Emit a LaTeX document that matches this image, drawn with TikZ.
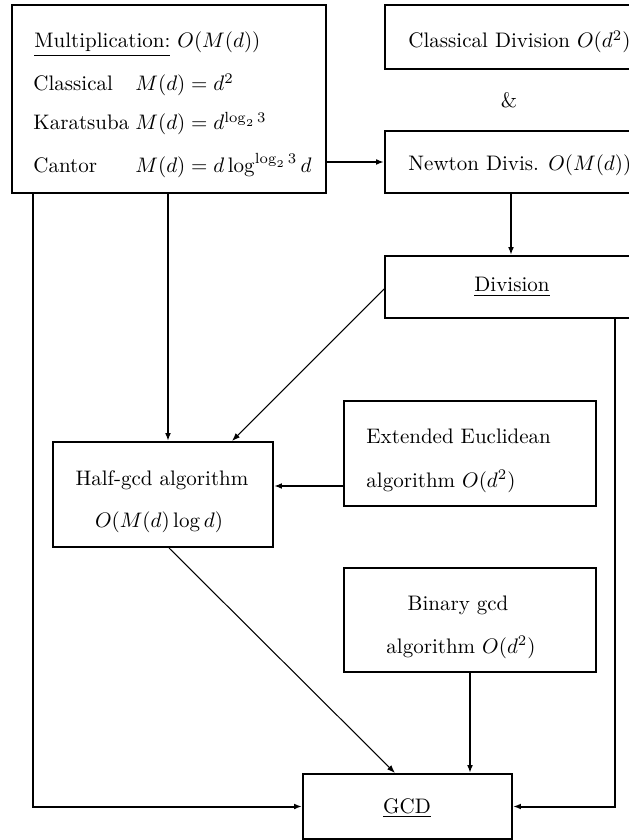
\documentclass[tikz,border=0pt]{standalone}
\usetikzlibrary{fit,calc,arrows.meta}
\begin{document}
\begin{tikzpicture}[x=0.476pt,y=-0.476pt,
  box/.style={draw,line width=0.95pt,inner sep=0pt},
  txt/.style={inner sep=0pt},
  arr/.style={line width=0.95pt,-{Latex[length=3.8pt,width=2.8pt]}},
  thinarr/.style={line width=0.5pt,-{Latex[length=3.8pt,width=2.8pt]}}]
\useasboundingbox (0,0) rectangle (629,840);
\clip (0,0) rectangle (629,840);
% boxes
\node[box,fit={(12,5)(326,193)}] (mult) {};
\node[box,fit={(385,5)(637,69)}] (cdiv) {};
\node[box,fit={(385,131)(637,193)}] (newton) {};
\node[box,fit={(385,256)(637,318)}] (division) {};
\node[box,fit={(53,442)(273,547)}] (halfgcd) {};
\node[box,fit={(344,401)(596,506)}] (ee) {};
\node[box,fit={(344,568)(596,672)}] (binary) {};
\node[box,fit={(303,774)(512,839)}] (gcd) {};
% texts
\node[txt,anchor=base west] (t1) at (34,48) {\underline{Multiplication:} $O(M(d))$};
\node[txt,anchor=base west] (t2) at (33,91) {Classical};
\node[txt,anchor=base west] (t2b) at (135,91) {$M(d)=d^2$};
\node[txt,anchor=base west] (t3) at (33,130) {Karatsuba};
\node[txt,anchor=base west] (t3b) at (135,130) {$M(d)=d^{\log_2 3}$};
\node[txt,anchor=base west] (t4) at (33,173) {Cantor};
\node[txt,anchor=base west] (t4b) at (135,173) {$M(d)=d\log^{\log_2 3} d$};
\node[txt,anchor=base west] (t5) at (408,48) {Classical Division $O(d^2)$};
\node[txt,anchor=base] (amp) at (509,108) {\&};
\node[txt,anchor=base west] (t6) at (408,171) {Newton Divis. $O(M(d))$};
\node[txt,anchor=base] (t7) at (512,292) {\underline{Division}};
\node[txt,anchor=base] (t8) at (162,485) {Half-gcd algorithm};
\node[txt,anchor=base] (t8b) at (159,527) {$O(M(d)\log d)$};
\node[txt,anchor=base west] (t9) at (366,443) {Extended Euclidean};
\node[txt,anchor=base west] (t9b) at (366,487) {algorithm $O(d^2)$};
\node[txt,anchor=base] (t10) at (458,610) {Binary gcd};
\node[txt,anchor=base] (t10b) at (461,653) {algorithm $O(d^2)$};
\node[txt,anchor=base] (t11) at (407,813) {\underline{GCD}};
% helper coordinates
\coordinate (xm) at (168,0);
\coordinate (ye) at (0,486);
\coordinate (xl) at (33,0);
\coordinate (xr) at (615,0);
\coordinate (dstart) at (385,289);
\coordinate (dend) at (232,442);
\coordinate (hstart) at (169,547);
\coordinate (hend) at (395,774);
% connectors
\draw[arr] (mult.east |- newton.west) -- (newton.west);
\draw[arr] (newton.south) -- (division.north);
\draw[thinarr] (division.west |- dstart) -- (halfgcd.north -| dend);
\draw[arr] (mult.south -| xm) -- (halfgcd.north -| xm);
\draw[arr] (ee.west |- ye) -- (halfgcd.east |- ye);
\draw[thinarr] (halfgcd.south -| hstart) -- (gcd.north -| hend);
\draw[arr] (binary.south) -- (gcd.north -| binary.south);
\draw[arr] (mult.south -| xl) |- (gcd.west);
\draw[arr] (division.south -| xr) |- (gcd.east);
\end{tikzpicture}
\end{document}
